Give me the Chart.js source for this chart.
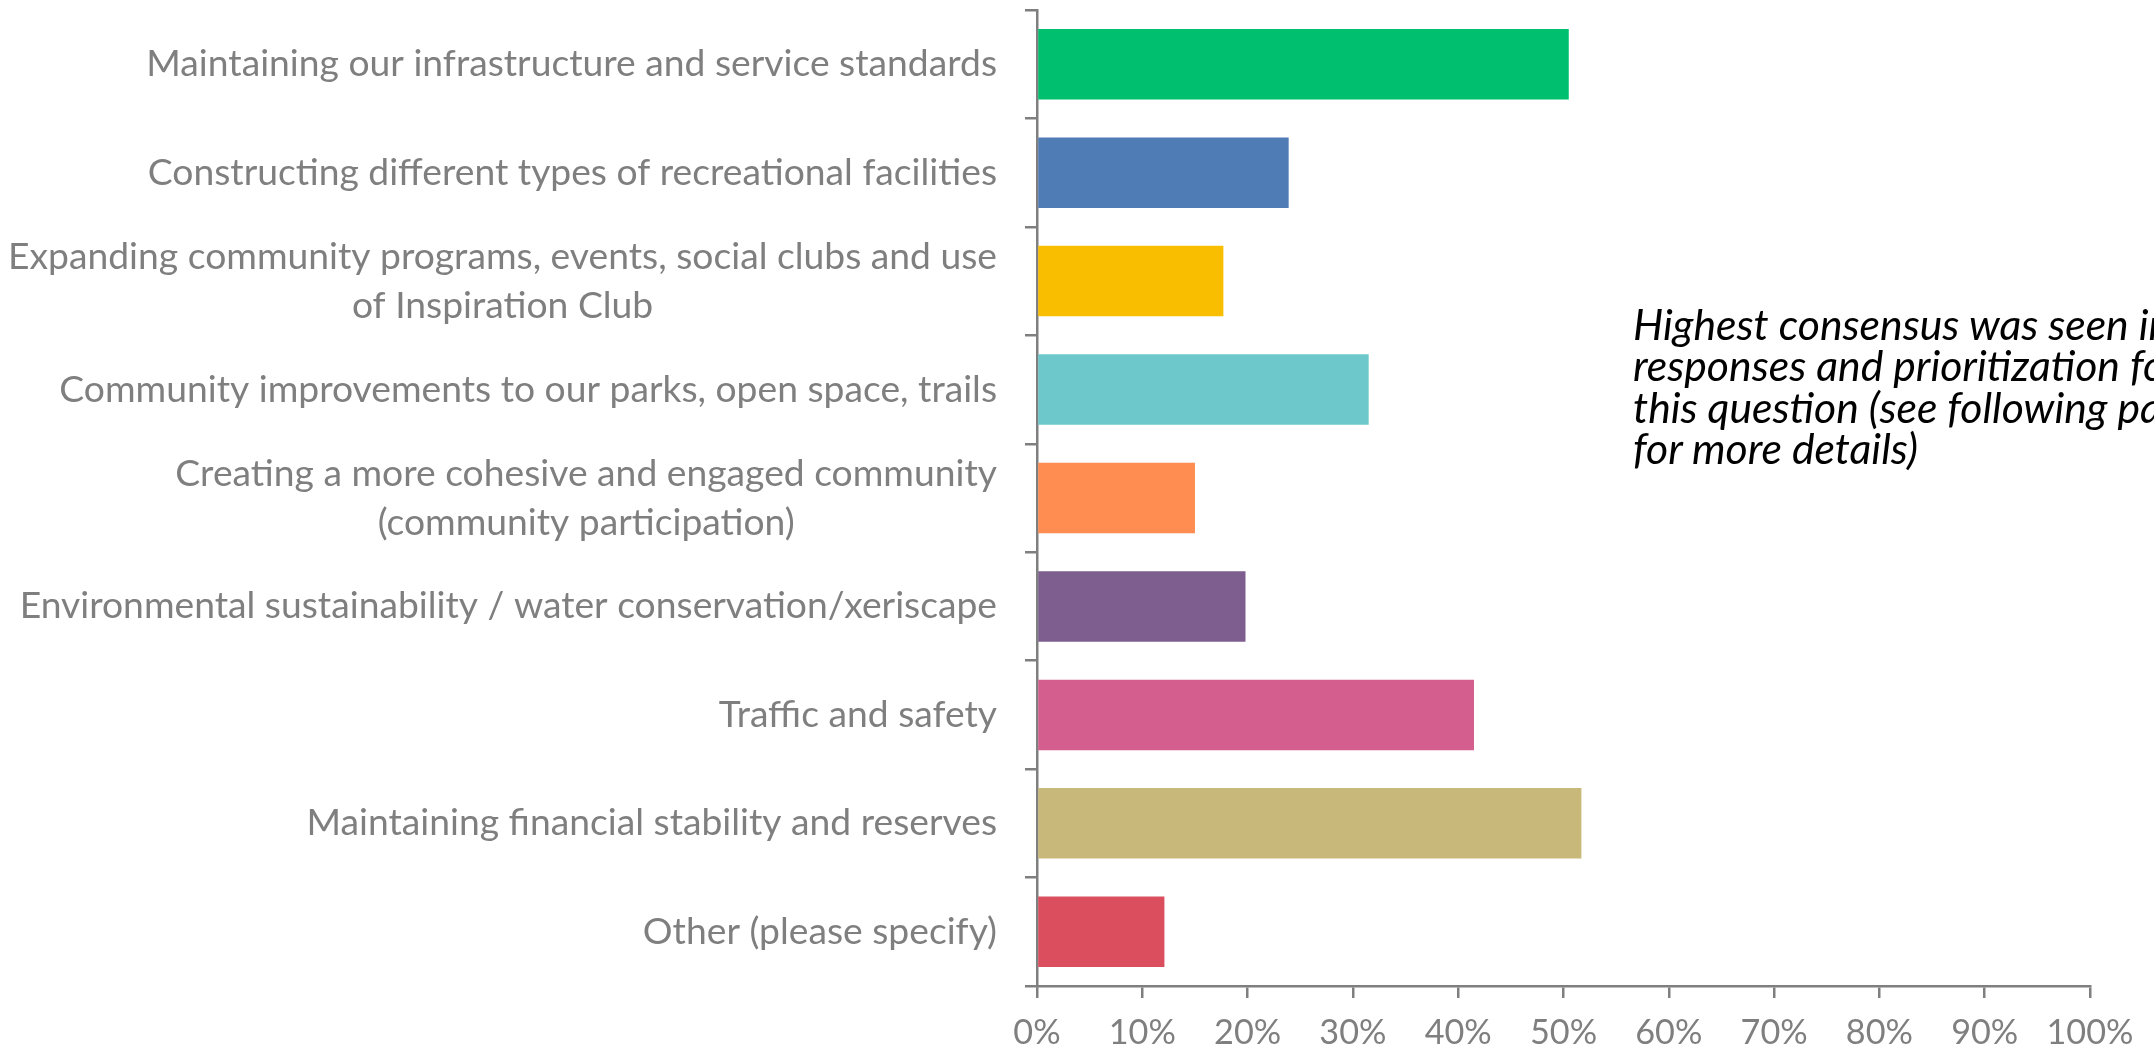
<!DOCTYPE html>
<html>
<head>
<meta charset="utf-8">
<script src="https://cdn.jsdelivr.net/npm/chart.js@4.4.0/dist/chart.umd.min.js"></script>
<style>
  html, body { margin: 0; padding: 0; background: #fff; overflow: hidden; }
  #wrap { position: relative; width: 2154px; height: 1058px; }
  #note { position: absolute; left: 1633px; top: 303px; white-space: nowrap;
          font-style: italic; color: #000; line-height: 41.3px; }
</style>
</head>
<body>
<div id="wrap">
  <canvas id="chart" width="2154" height="1058"></canvas>
  <div id="note">Highest consensus was seen in these<br>responses and prioritization for<br>this question (see following pages<br>for more details)</div>
</div>
<script>
var categories = [
  "Maintaining our infrastructure and service standards",
  "Constructing different types of recreational facilities",
  ["Expanding community programs, events, social clubs and use", "of Inspiration Club"],
  "Community improvements to our parks, open space, trails",
  ["Creating a more cohesive and engaged community", "(community participation)"],
  "Environmental sustainability / water conservation/xeriscape",
  "Traffic and safety",
  "Maintaining financial stability and reserves",
  "Other (please specify)"
];
var values = [50.5, 23.9, 17.7, 31.5, 15.0, 19.8, 41.5, 51.7, 12.1];
var barColors = ["#00BF6F", "#4F7CB4", "#F9BE00", "#6DC8CC", "#FF8C50",
                 "#7D5E8E", "#D45F8E", "#C8B87A", "#DA4E5D"];

var axisGrey = "#7f7f7f";

// pick a narrow humanist-ish face, fall back if missing
var probe = document.createElement("canvas").getContext("2d");
function widthOf(font, text) { probe.font = font; return probe.measureText(text).width; }
var family = "Liberation Sans Narrow";
if (widthOf('40px "Liberation Sans Narrow", monospace', "abcdefg") === widthOf("40px monospace", "abcdefg")) {
  family = "Lato";
}
var fontStack = '"' + family + '", sans-serif';

// size fonts so text widths match the reference
var labelSize = 40 * 938 / widthOf("40px " + fontStack, "Community improvements to our parks, open space, trails");
var tickSize = 40 * 87 / widthOf("40px " + fontStack, "100%");
var noteSize = 40 * 286 / widthOf("italic 40px " + fontStack, "for more details)");

var note = document.getElementById("note");
note.style.fontFamily = fontStack;
note.style.fontSize = noteSize + "px";

var labelRight = 997;
var lineGap = 49;

var yLabels = {
  id: "yLabels",
  afterDraw: function(chart) {
    var ctx = chart.ctx;
    var scale = chart.scales.y;
    ctx.save();
    ctx.font = labelSize + "px " + fontStack;
    ctx.fillStyle = axisGrey;
    ctx.textAlign = "center";
    ctx.textBaseline = "middle";
    categories.forEach(function(lab, i) {
      var lines = Array.isArray(lab) ? lab : [lab];
      var w = 0;
      lines.forEach(function(l) { w = Math.max(w, ctx.measureText(l).width); });
      var cx = labelRight - w / 2;
      var yc = scale.getPixelForTick(i);
      var y0 = yc - (lines.length - 1) * lineGap / 2;
      lines.forEach(function(l, k) { ctx.fillText(l, cx, y0 + k * lineGap); });
    });
    ctx.restore();
  }
};

new Chart(document.getElementById("chart"), {
  type: "bar",
  data: {
    labels: categories,
    datasets: [{
      data: values,
      backgroundColor: barColors,
      borderWidth: 0,
      categoryPercentage: 1,
      barPercentage: 0.65
    }]
  },
  options: {
    indexAxis: "y",
    responsive: false,
    animation: false,
    devicePixelRatio: 1,
    layout: { padding: { top: 10, right: 64, left: 0, bottom: 0 } },
    plugins: { legend: { display: false }, tooltip: { enabled: false } },
    scales: {
      x: {
        min: 0,
        max: 100,
        ticks: {
          stepSize: 10,
          color: axisGrey,
          font: { family: fontStack, size: tickSize },
          padding: 14,
          callback: function(v) { return v + "%"; }
        },
        grid: { drawOnChartArea: false, drawTicks: true, tickLength: 12, color: axisGrey, lineWidth: 2.5 },
        border: { display: true, color: axisGrey, width: 2.5 },
        afterFit: function(s) { s.height = 72; }
      },
      y: {
        ticks: { display: false },
        grid: { drawOnChartArea: false, drawTicks: true, tickLength: 12, color: axisGrey, lineWidth: 2.5 },
        border: { display: true, color: axisGrey, width: 2.5 },
        afterFit: function(s) { s.width = 1037; }
      }
    }
  },
  plugins: [yLabels]
});
</script>
</body>
</html>
